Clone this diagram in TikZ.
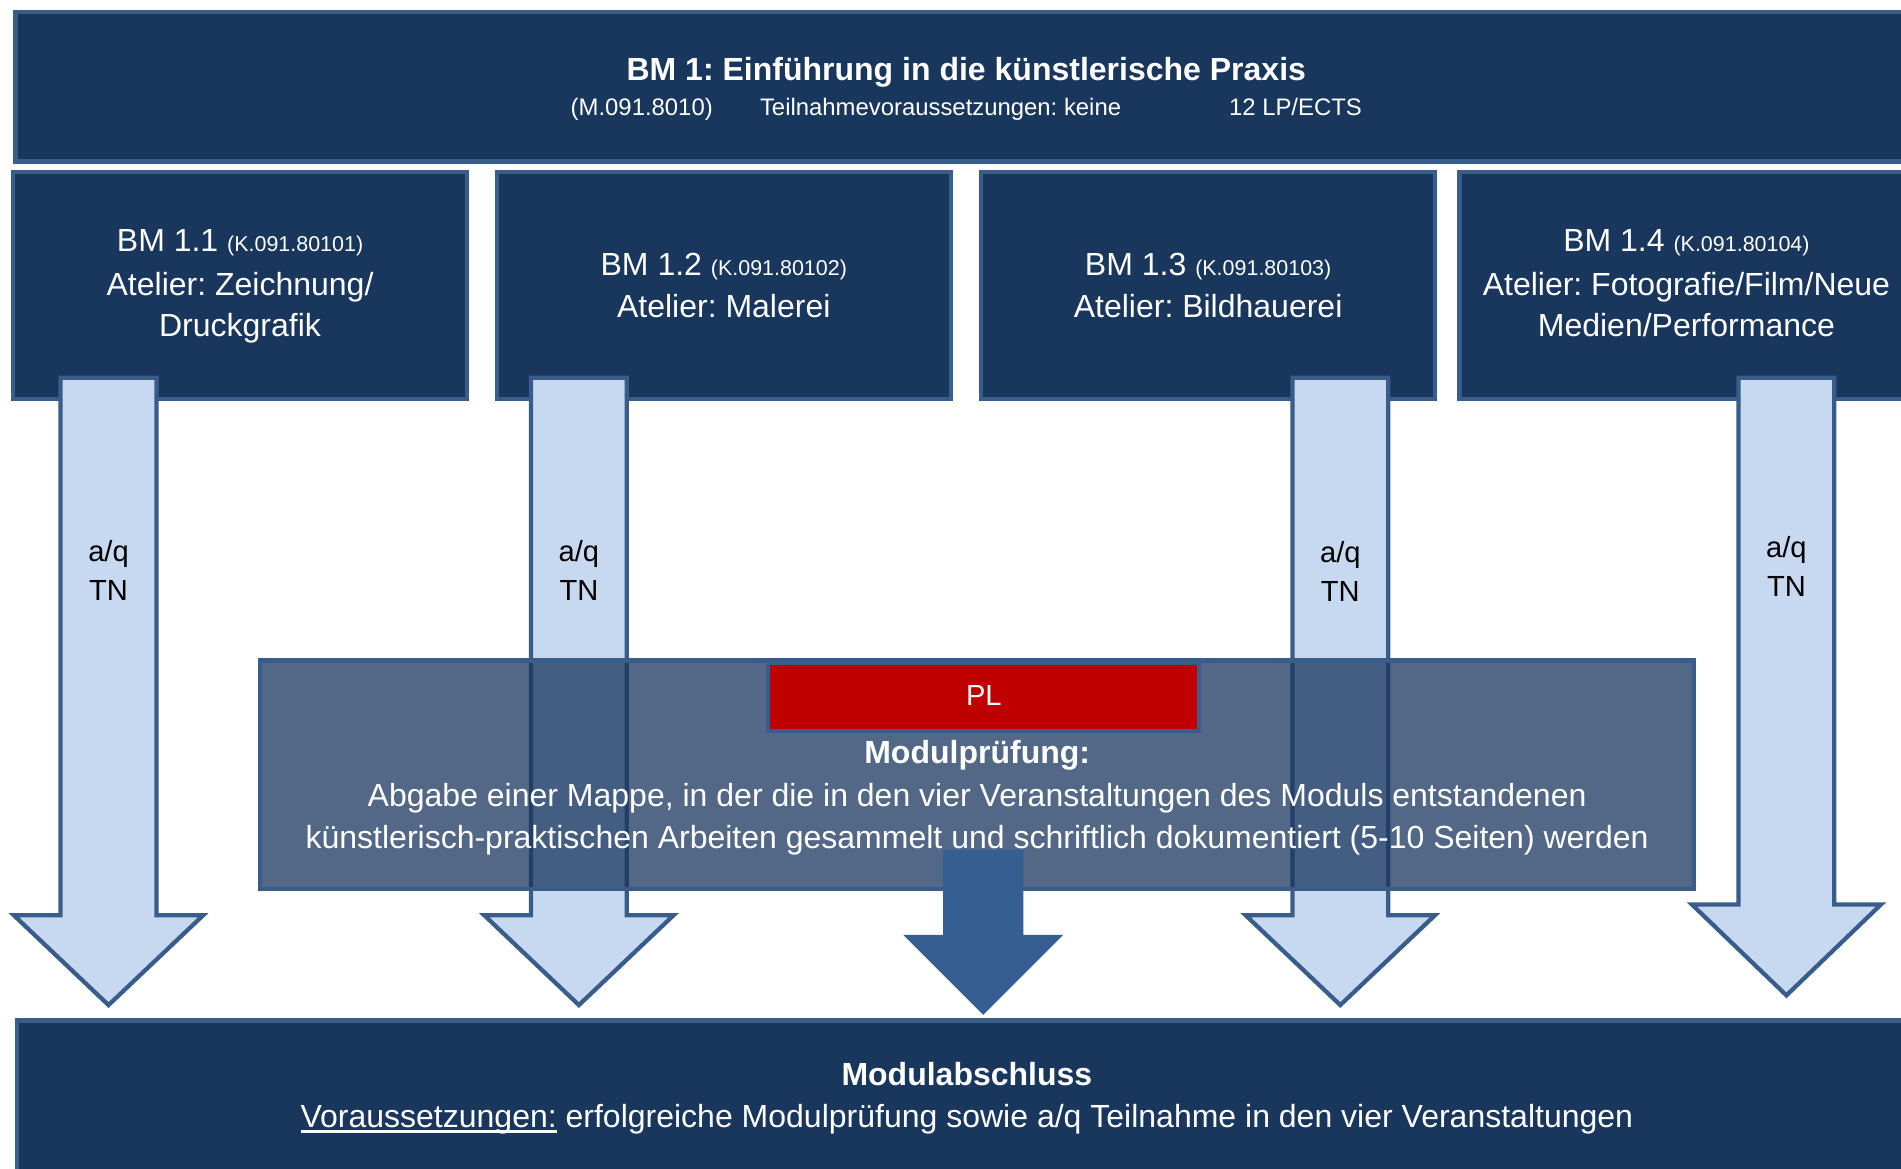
\documentclass[tikz,border=0pt]{standalone}
\usepackage{fontspec}
\setmainfont{Liberation Sans}
\frenchspacing
\definecolor{navy}{RGB}{25,54,93}
\definecolor{edgeblue}{RGB}{57,93,139}
\definecolor{lightfill}{RGB}{198,217,241}
\definecolor{darkarrowfill}{RGB}{54,95,145}
\definecolor{plred}{RGB}{192,0,0}
\newcommand\fmain{\fontsize{26.4}{34}\selectfont}
\newcommand\fsmall{\fontsize{19.7}{24}\selectfont}
\newcommand\fcode{\fontsize{17.7}{22}\selectfont}
\newcommand\flab{\fontsize{24}{31}\selectfont}
\newcommand\myuline[1]{\setbox0\hbox{#1}\rlap{\rule[-5pt]{\wd0}{2.5pt}}\box0\relax}
% name, cx, top, base, tip
\newcommand\drawblockarrow[5]{%
  \coordinate (#1-top) at (#2,#3);
  \coordinate (#1-tip) at (#2,#5);
  \draw[lightarr] ({#2-39.5},#3) -- ({#2+39.5},#3) -- ({#2+39.5},#4) -- ({#2+78},#4)
    -- (#1-tip) -- ({#2-78},#4) -- ({#2-39.5},#4) -- cycle;}
\begin{document}
\begin{tikzpicture}[x=1pt,y=-1pt,
  box/.style={draw=edgeblue, line width=3.5pt, fill=navy, inner sep=0pt},
  lightarr/.style={draw=edgeblue, line width=3.5pt, fill=lightfill, line join=miter},
  txt/.style={inner sep=0pt, anchor=base, text=white, font=\fmain},
  lab/.style={inner sep=0pt, anchor=base, text=black, font=\flab}]
\path[use as bounding box] (0,0) rectangle (1568,964);
\clip (0,0) rectangle (1568,964);

% top box
\node[box, minimum width=1568.5pt, minimum height=123.5pt] (top) at (797,71.5) {};
\node[txt, font=\fmain\bfseries] (t1) at (797,66) {BM 1: Einführung in die künstlerische Praxis};
\node[txt, font=\fsmall] (t2) at (797,95.5) {(M.091.8010)\hspace{39pt}Teilnahmevoraussetzungen: keine\hspace{89pt}12 LP/ECTS};

% sub boxes
\node[box, minimum width=374.5pt, minimum height=187.5pt] (bm11) at (198,235.5) {};
\node[box, minimum width=374.5pt, minimum height=187.5pt] (bm12) at (597,235.5) {};
\node[box, minimum width=374.5pt, minimum height=187.5pt] (bm13) at (996.5,235.5) {};
\node[box, minimum width=374.5pt, minimum height=187.5pt] (bm14) at (1391,235.5) {};

\node[txt] (s1a) at (198,207.6) {BM 1.1 {\fcode(K.091.80101)}};
\node[txt] (s1b) at (198,243.6) {Atelier: Zeichnung/};
\node[txt] (s1c) at (198,277.6) {Druckgrafik};
\node[txt] (s2a) at (597,227.6) {BM 1.2 {\fcode(K.091.80102)}};
\node[txt] (s2b) at (597,261.6) {Atelier: Malerei};
\node[txt] (s3a) at (996.5,227.6) {BM 1.3 {\fcode(K.091.80103)}};
\node[txt] (s3b) at (996.5,261.6) {Atelier: Bildhauerei};
\node[txt] (s4a) at (1391,207.6) {BM 1.4 {\fcode(K.091.80104)}};
\node[txt] (s4b) at (1391,243.6) {Atelier: Fotografie/Film/Neue};
\node[txt] (s4c) at (1391,277.6) {Medien/Performance};

% light arrows
\drawblockarrow{a1}{89.5}{311.5}{755}{829}
\drawblockarrow{a2}{477.5}{311.5}{755}{829}
\drawblockarrow{a3}{1105.5}{311.5}{755}{829}
\drawblockarrow{a4}{1473.5}{311.5}{746}{821}
\node[lab] (a1q) at (89.5,463) {a/q};
\node[lab] (a1t) at (89.5,495) {TN};
\node[lab] (a2q) at (477.5,463) {a/q};
\node[lab] (a2t) at (477.5,495) {TN};
\node[lab] (a3q) at (1105.5,464) {a/q};
\node[lab] (a3t) at (1105.5,496) {TN};
\node[lab] (a4q) at (1473.5,460) {a/q};
\node[lab] (a4t) at (1473.5,492) {TN};

% module exam box
\node[box, fill opacity=0.75, minimum width=1182.5pt, minimum height=188.5pt] (mp) at (806,639) {};
\node[box, fill=plred, minimum width=355.5pt, minimum height=56.5pt] (pl) at (811.5,575) {};
\node[txt, font=\flab] (plt) at (811.5,582) {PL};
\node[txt, font=\fmain\bfseries] (m1) at (806,630) {Modulprüfung:};
\node[txt] (m2) at (806,665) {Abgabe einer Mappe, in der die in den vier Veranstaltungen des Moduls entstandenen};
\node[txt] (m3) at (806,699.5) {künstlerisch-praktischen Arbeiten gesammelt und schriftlich dokumentiert (5-10 Seiten) werden};

% dark arrow
\coordinate (da-top) at (811,701);
\coordinate (da-tip) at (811,837);
\fill[darkarrowfill] (778,701) -- (844,701) -- (844,771) -- (877,771) -- (da-tip) -- (745,771) -- (778,771) -- cycle;

% bottom box
\node[box, minimum width=1567.5pt, minimum height=156.5pt] (bot) at (797.5,920) {};
\node[txt, font=\fmain\bfseries] (b1) at (797.5,895) {Modulabschluss};
\node[txt] (b2) at (797.5,929.7) {\myuline{Voraussetzungen:} erfolgreiche Modulprüfung sowie a/q Teilnahme in den vier Veranstaltungen};
\end{tikzpicture}
\end{document}
